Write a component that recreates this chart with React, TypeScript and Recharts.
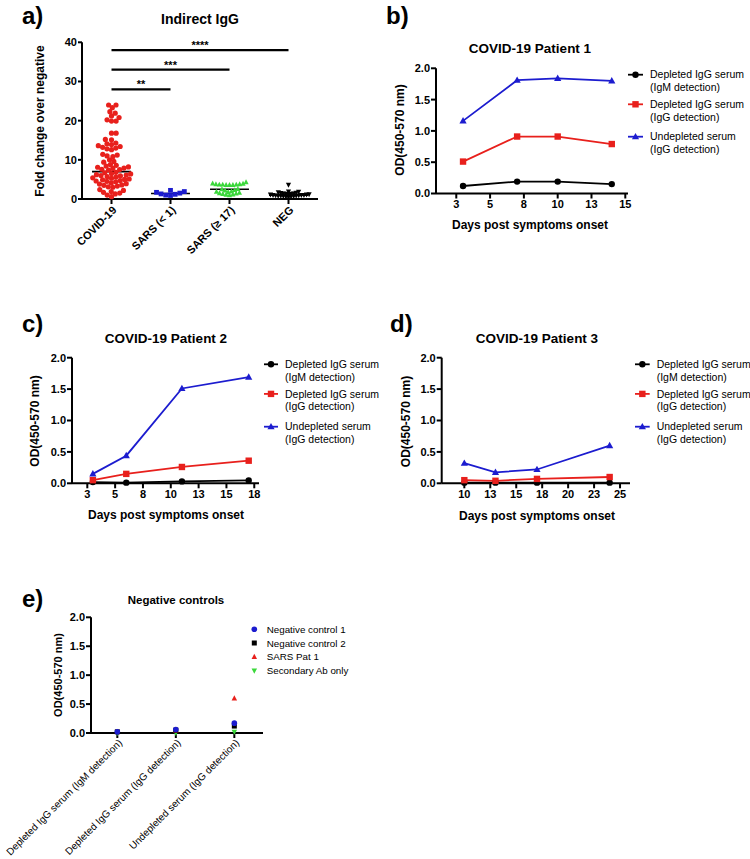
import React from 'react';
import { ScatterChart, Scatter, LineChart, Line, XAxis, YAxis, ReferenceLine } from 'recharts';

const FONT = '"Liberation Sans", Arial, Helvetica, sans-serif';
const RED = '#e8201c';
const BLUE = '#1c1ccf';
const GREEN = '#3bd83b';
const BLACK = '#000000';

// ---------------- Panel a data ----------------
const groupLabels = ['COVID-19', 'SARS (< 1)', 'SARS (\u2265 17)', 'NEG'];
const covidFold = [
  24.0, 24.0, 23.3, 22.3, 21.9, 21.2, 20.8, 20.2, 19.9, 19.9, 16.8, 16.8, 15.2, 15.1,
  14.3, 14.1, 13.9, 13.6, 13.4, 13.2, 13.0, 12.8, 12.6,
  11.4, 11.2, 11.0, 10.8, 10.0, 9.6, 9.4, 8.8, 8.6,
  8.4, 8.2, 8.1, 7.9, 7.8, 7.6, 7.5, 7.4,
  6.8, 6.7, 6.5, 6.4, 6.2, 6.1, 6.0, 5.9, 5.7, 5.6,
  5.4, 5.3, 5.1, 5.0, 4.9, 4.7, 4.6, 4.5, 4.4,
  4.1, 3.9, 3.8, 3.6, 3.5, 3.3, 3.1, 3.0,
  2.4, 2.2, 1.9, 1.7, 1.5, 1.3, 1.0, 0.6,
];
const sarsEarlyFold = [2.2, 1.9, 1.5, 1.2, 0.9, 1.0, 1.3, 1.7];
const sarsLateFold = [4.3, 4.0, 3.9, 3.8, 3.8, 3.7, 3.7, 3.7, 3.6, 3.6, 3.6, 2.6, 2.5, 2.3, 2.2, 2.0, 1.9, 1.8, 1.6, 1.5, 1.4, 1.3, 1.2, 1.1, 1.0];
const negFold = [3.6, 1.9, 1.8, 1.7, 1.6, 1.5, 1.4, 1.4, 1.3, 1.3, 1.2, 1.2, 1.1, 1.1, 1.0, 1.0, 1.0, 0.9, 0.9, 0.8, 0.8, 0.8, 0.7, 0.7, 0.6, 0.6, 0.5];
const groupMedians = [7.0, 1.4, 2.5, 1.0];
const foldTicks = [0, 10, 20, 30, 40];
const sigLevels = [38, 33, 28];
const sigTargets = [3, 2, 1];
const sigStars = ['****', '***', '**'];

// ---------------- Panels b, c, d data ----------------
const odTicks = [0, 0.5, 1, 1.5, 2];
const p1Days = [3, 7, 10, 14];
const p1IgM = [0.12, 0.19, 0.19, 0.15];
const p1IgG = [0.51, 0.91, 0.91, 0.79];
const p1Und = [1.16, 1.81, 1.84, 1.8];
const p1Ticks = [2.5, 5, 7.5, 10, 12.5, 15];

const p2Days = [3, 6, 11, 17];
const p2IgM = [0.02, 0.01, 0.03, 0.045];
const p2IgG = [0.05, 0.15, 0.26, 0.36];
const p2Und = [0.15, 0.44, 1.51, 1.69];
const p2Ticks = [2.5, 5, 7.5, 10, 12.5, 15, 17.5];

const p3Days = [10, 13, 17, 24];
const p3IgM = [0.01, 0.01, 0.01, 0.01];
const p3IgG = [0.05, 0.04, 0.07, 0.1];
const p3Und = [0.32, 0.175, 0.22, 0.6];
const p3Ticks = [10, 12.5, 15, 17.5, 20, 22.5, 25];

const lineLegend = [
  ['Depleted IgG serum', '(IgM detection)'],
  ['Depleted IgG serum', '(IgG detection)'],
  ['Undepleted serum', '(IgG detection)'],
];

// ---------------- Panel e data ----------------
const ctrlCategories = ['Depleted IgG serum (IgM detection)', 'Depleted IgG serum (IgG detection)', 'Undepleted serum (IgG detection)'];
const ctrlNeg1 = [0.02, 0.06, 0.17];
const ctrlNeg2 = [0.02, 0.05, 0.12];
const ctrlSars = [0.02, 0.04, 0.6];
const ctrlSecondary = [0.0, 0.0, 0.02];
const ctrlLegend = ['Negative control 1', 'Negative control 2', 'SARS Pat 1', 'Secondary Ab only'];

// ---------------- helpers ----------------
function swarm(values: number[], pxPerX: number, pxPerY: number, d: number) {
  const sorted = [...values].sort((a, b) => a - b);
  const placed: { px: number; py: number }[] = [];
  const res: { off: number; v: number }[] = [];
  sorted.forEach((v, k) => {
    const py = v * pxPerY;
    const cands = [0];
    for (const p of placed) {
      const dy = Math.abs(p.py - py);
      if (dy < d) {
        const dx = Math.sqrt(d * d - dy * dy);
        cands.push(p.px + dx + 1e-6, p.px - dx - 1e-6);
      }
    }
    cands.sort((a, b) => Math.abs(a) - Math.abs(b) || (k % 2 ? a - b : b - a));
    let chosen = 0;
    for (const c of cands) {
      if (placed.every((p) => (p.px - c) ** 2 + (p.py - py) ** 2 >= d * d - 1e-3)) {
        chosen = c;
        break;
      }
    }
    placed.push({ px: chosen, py });
    res.push({ off: chosen / pxPerX, v });
  });
  return res;
}

const axisStroke = { stroke: BLACK, strokeWidth: 2 };
const tickFont = { fontSize: 11, fontWeight: 700, fill: BLACK, fontFamily: FONT };

const circleShape = (color: string, r: number) => (p: any) => <circle cx={p.cx} cy={p.cy} r={r} fill={color} />;
const squareShape = (color: string, s: number) => (p: any) => <rect x={p.cx - s / 2} y={p.cy - s / 2} width={s} height={s} fill={color} />;
const triShape = (color: string, s: number) => (p: any) => (
  <path d={`M${p.cx},${p.cy - s * 0.55} L${p.cx + s / 2},${p.cy + s * 0.4} L${p.cx - s / 2},${p.cy + s * 0.4} Z`} fill={color} />
);
const invTriShape = (color: string, s: number) => (p: any) => (
  <path d={`M${p.cx},${p.cy + s * 0.55} L${p.cx + s / 2},${p.cy - s * 0.4} L${p.cx - s / 2},${p.cy - s * 0.4} Z`} fill={color} />
);

const lineDot = (kind: string, color: string) => (p: any) => {
  const k = `${kind}-${p.index}`;
  if (p.cx == null || p.cy == null) return <g key={k} />;
  if (kind === 'circle') return <circle key={k} cx={p.cx} cy={p.cy} r={3.2} fill={color} />;
  if (kind === 'square') return <rect key={k} x={p.cx - 3.2} y={p.cy - 3.2} width={6.4} height={6.4} fill={color} />;
  return <path key={k} d={`M${p.cx},${p.cy - 3.8} L${p.cx + 3.6},${p.cy + 2.6} L${p.cx - 3.6},${p.cy + 2.6} Z`} fill={color} />;
};

// ---------------- Panel a ----------------
function PanelA() {
  const W = 330, H = 290, top = 42.3, right = 12, yW = 82, xH = 91;
  const plotW = W - yW - right;
  const plotH = H - top - xH;
  const pxX = plotW / 4;
  const pxY = plotH / 40;
  const groups = [covidFold, sarsEarlyFold, sarsLateFold, negFold];
  const diams = [4.6, 4.8, 3.4, 2.6];
  const data = groups.map((vals, gi) => swarm(vals, pxX, pxY, diams[gi]).map((p) => ({ x: gi + p.off, y: p.v })));
  const shapes = [circleShape(RED, 2.6), squareShape(BLUE, 4.8), triShape(GREEN, 5.2), invTriShape(BLACK, 5.2)];
  const RotTick = (p: any) => (
    <g transform={`translate(${p.x + 3},${p.y + 2})`}>
      <text x={0} y={0} dy="0.35em" textAnchor="end" transform="rotate(-45)" fontSize={11} fontWeight={700} fontFamily={FONT} fill={BLACK}>
        {groupLabels[Math.round(p.payload.value)]}
      </text>
    </g>
  );
  return (
    <div style={{ position: 'absolute', left: 0, top: 0 }}>
      <ScatterChart width={W} height={H} margin={{ top, right, bottom: 0, left: 0 }}>
        <XAxis type="number" dataKey="x" domain={[-0.5, 3.5]} ticks={[0, 1, 2, 3]} interval={0} height={xH}
          tick={RotTick} tickSize={5} tickMargin={2} axisLine={axisStroke} tickLine={axisStroke} />
        <YAxis type="number" dataKey="y" domain={[0, 40]} ticks={foldTicks} interval={0} width={yW}
          tick={tickFont} tickSize={4} tickMargin={1} axisLine={axisStroke} tickLine={axisStroke} />
        {sigLevels.map((lv, i) => (
          <ReferenceLine key={`sig${i}`} segment={[{ x: 0, y: lv }, { x: sigTargets[i], y: lv }]} stroke={BLACK} strokeWidth={2.2} ifOverflow="visible"
            label={{ value: sigStars[i], position: 'top', offset: 1, fill: BLACK, fontSize: 11, fontWeight: 700, fontFamily: FONT }} />
        ))}
        {data.map((d, gi) => (
          <Scatter key={`g${gi}`} data={d} shape={shapes[gi]} isAnimationActive={false} />
        ))}
        {groupMedians.map((m, gi) => (
          <ReferenceLine key={`med${gi}`} segment={[{ x: gi - 0.33, y: m }, { x: gi + 0.33, y: m }]} stroke={BLACK} strokeWidth={1.6} ifOverflow="visible" />
        ))}
      </ScatterChart>
    </div>
  );
}

// ---------------- Line panels ----------------
function LinePanel(props: {
  left: number; top: number; width: number; height: number; mTop: number; mRight: number; yW: number; xH: number;
  domain: [number, number]; ticks: number[]; days: number[]; igm: number[]; igg: number[]; und: number[];
}) {
  const data = props.days.map((d, i) => ({ day: d, igm: props.igm[i], igg: props.igg[i], und: props.und[i] }));
  return (
    <div style={{ position: 'absolute', left: props.left, top: props.top }}>
      <LineChart width={props.width} height={props.height} data={data} margin={{ top: props.mTop, right: props.mRight, bottom: 0, left: 0 }}>
        <XAxis type="number" dataKey="day" domain={props.domain} ticks={props.ticks} interval={0} height={props.xH}
          tickFormatter={(v: number) => String(Math.round(v))} tick={tickFont} tickSize={5} tickMargin={2} axisLine={axisStroke} tickLine={axisStroke} allowDataOverflow />
        <YAxis type="number" domain={[0, 2]} ticks={odTicks} interval={0} width={props.yW}
          tickFormatter={(v: number) => v.toFixed(1)} tick={tickFont} tickSize={5} tickMargin={1} axisLine={axisStroke} tickLine={axisStroke} />
        <Line dataKey="igm" stroke={BLACK} strokeWidth={1.8} dot={lineDot('circle', BLACK)} activeDot={false} isAnimationActive={false} />
        <Line dataKey="igg" stroke={RED} strokeWidth={1.8} dot={lineDot('square', RED)} activeDot={false} isAnimationActive={false} />
        <Line dataKey="und" stroke={BLUE} strokeWidth={1.8} dot={lineDot('triangle', BLUE)} activeDot={false} isAnimationActive={false} />
      </LineChart>
    </div>
  );
}

// ---------------- Panel e ----------------
function PanelE() {
  const W = 280, H = 279, top = 37.3, right = 17, yW = 91, xH = 126;
  const mk = (vals: number[]) => vals.map((v, i) => ({ x: i, y: v }));
  const CatTick = (p: any) => (
    <g transform={`translate(${p.x + 3},${p.y + 1})`}>
      <text x={0} y={0} dy="0.35em" textAnchor="end" transform="rotate(-45)" fontSize={10} fontFamily={FONT} fill={BLACK}>
        {ctrlCategories[Math.round(p.payload.value)]}
      </text>
    </g>
  );
  return (
    <div style={{ position: 'absolute', left: 0, top: 580 }}>
      <ScatterChart width={W} height={H} margin={{ top, right, bottom: 0, left: 0 }}>
        <XAxis type="number" dataKey="x" domain={[-0.45, 2.49]} ticks={[0, 1, 2]} interval={0} height={xH}
          tick={CatTick} tickSize={5} tickMargin={2} axisLine={axisStroke} tickLine={axisStroke} />
        <YAxis type="number" dataKey="y" domain={[0, 2]} ticks={odTicks} interval={0} width={yW}
          tickFormatter={(v: number) => v.toFixed(1)} tick={tickFont} tickSize={5} tickMargin={1} axisLine={axisStroke} tickLine={axisStroke} />
        <Scatter data={mk(ctrlSecondary)} shape={invTriShape(GREEN, 5.5)} isAnimationActive={false} />
        <Scatter data={mk(ctrlSars)} shape={triShape(RED, 5.5)} isAnimationActive={false} />
        <Scatter data={mk(ctrlNeg2)} shape={squareShape(BLACK, 5)} isAnimationActive={false} />
        <Scatter data={mk(ctrlNeg1)} shape={circleShape(BLUE, 2.8)} isAnimationActive={false} />
      </ScatterChart>
    </div>
  );
}

// ---------------- Overlay texts & legends ----------------
function LineLegend({ x0, textX, y0, offsets }: { x0: number; textX: number; y0: number; offsets: number[] }) {
  const colors = [BLACK, RED, BLUE];
  const kinds = ['circle', 'square', 'triangle'];
  return (
    <g>
      {lineLegend.map((lab, i) => {
        const y = y0 + offsets[i];
        const cx = (x0 + textX - 7) / 2;
        return (
          <g key={i}>
            <line x1={x0} x2={textX - 7} y1={y} y2={y} stroke={colors[i]} strokeWidth={1.8} />
            {lineDot(kinds[i], colors[i])({ cx, cy: y, index: i })}
            <text x={textX} y={y + 3.7} fontSize={10.5} fontFamily={FONT} fill={BLACK}>{lab[0]}</text>
            <text x={textX} y={y + 16.3} fontSize={10.5} fontFamily={FONT} fill={BLACK}>{lab[1]}</text>
          </g>
        );
      })}
    </g>
  );
}

function Overlay() {
  const bold = { fontFamily: FONT, fontWeight: 700, fill: BLACK } as const;
  const legendShapes = [circleShape(BLUE, 2.8), squareShape(BLACK, 5), triShape(RED, 5.5), invTriShape(GREEN, 5.5)];
  const eRows = [629.3, 643, 656.8, 670.7];
  return (
    <svg width={750} height={859} style={{ position: 'absolute', left: 0, top: 0, pointerEvents: 'none' }}>
      <text x={22} y={24} fontSize={24} {...bold}>a)</text>
      <text x={386} y={24} fontSize={24} {...bold}>b)</text>
      <text x={22} y={332} fontSize={24} {...bold}>c)</text>
      <text x={390} y={332} fontSize={24} {...bold}>d)</text>
      <text x={22} y={607} fontSize={24} {...bold}>e)</text>

      <text x={200} y={24} fontSize={14} textAnchor="middle" {...bold}>Indirect IgG</text>
      <text x={530} y={53} fontSize={13.5} textAnchor="middle" {...bold}>COVID-19 Patient 1</text>
      <text x={166} y={342.5} fontSize={13.5} textAnchor="middle" {...bold}>COVID-19 Patient 2</text>
      <text x={537} y={342.5} fontSize={13.5} textAnchor="middle" {...bold}>COVID-19 Patient 3</text>
      <text x={176} y={604} fontSize={11.5} textAnchor="middle" {...bold}>Negative controls</text>

      <text x={530} y={228.5} fontSize={12} textAnchor="middle" {...bold}>Days post symptoms onset</text>
      <text x={166} y={518.5} fontSize={12} textAnchor="middle" {...bold}>Days post symptoms onset</text>
      <text x={537} y={520} fontSize={12} textAnchor="middle" {...bold}>Days post symptoms onset</text>

      <text transform="translate(44,121) rotate(-90)" fontSize={12} textAnchor="middle" {...bold}>Fold change over negative</text>
      <text transform="translate(404,130) rotate(-90)" fontSize={12} textAnchor="middle" {...bold}>OD(450-570 nm)</text>
      <text transform="translate(38.5,421) rotate(-90)" fontSize={12} textAnchor="middle" {...bold}>OD(450-570 nm)</text>
      <text transform="translate(409.5,421.5) rotate(-90)" fontSize={12} textAnchor="middle" {...bold}>OD(450-570 nm)</text>
      <text transform="translate(61.5,675) rotate(-90)" fontSize={11} textAnchor="middle" {...bold}>OD(450-570 nm)</text>

      <LineLegend x0={628} textX={650} y0={74.7} offsets={[0, 29.6, 62]} />
      <LineLegend x0={264} textX={285} y0={364.3} offsets={[0, 29.6, 62.4]} />
      <LineLegend x0={635} textX={656.7} y0={364.3} offsets={[0, 29.6, 62.4]} />

      {ctrlLegend.map((lab, i) => (
        <g key={i}>
          {legendShapes[i]({ cx: 254.3, cy: eRows[i] })}
          <text x={266.7} y={eRows[i] + 3.5} fontSize={9.8} fontFamily={FONT} fill={BLACK}>{lab}</text>
        </g>
      ))}
    </svg>
  );
}

export default function App() {
  return (
    <div style={{ position: 'absolute', left: 0, top: 0, width: 750, height: 859, background: '#fff', overflow: 'hidden' }}>
      <PanelA />
      <LinePanel left={370} top={0} width={270} height={240} mTop={68.3} mRight={12} yW={66} xH={46.5}
        domain={[1, 15.2]} ticks={p1Ticks} days={p1Days} igm={p1IgM} igg={p1IgG} und={p1Und} />
      <LinePanel left={0} top={300} width={270} height={240} mTop={57.7} mRight={11} yW={72} xH={56.7}
        domain={[1.125, 17.925]} ticks={p2Ticks} days={p2Days} igm={p2IgM} igg={p2IgG} und={p2Und} />
      <LinePanel left={380} top={300} width={260} height={240} mTop={57.7} mRight={10} yW={61.7} xH={56.7}
        domain={[7.82, 25.96]} ticks={p3Ticks} days={p3Days} igm={p3IgM} igg={p3IgG} und={p3Und} />
      <PanelE />
      <Overlay />
    </div>
  );
}
